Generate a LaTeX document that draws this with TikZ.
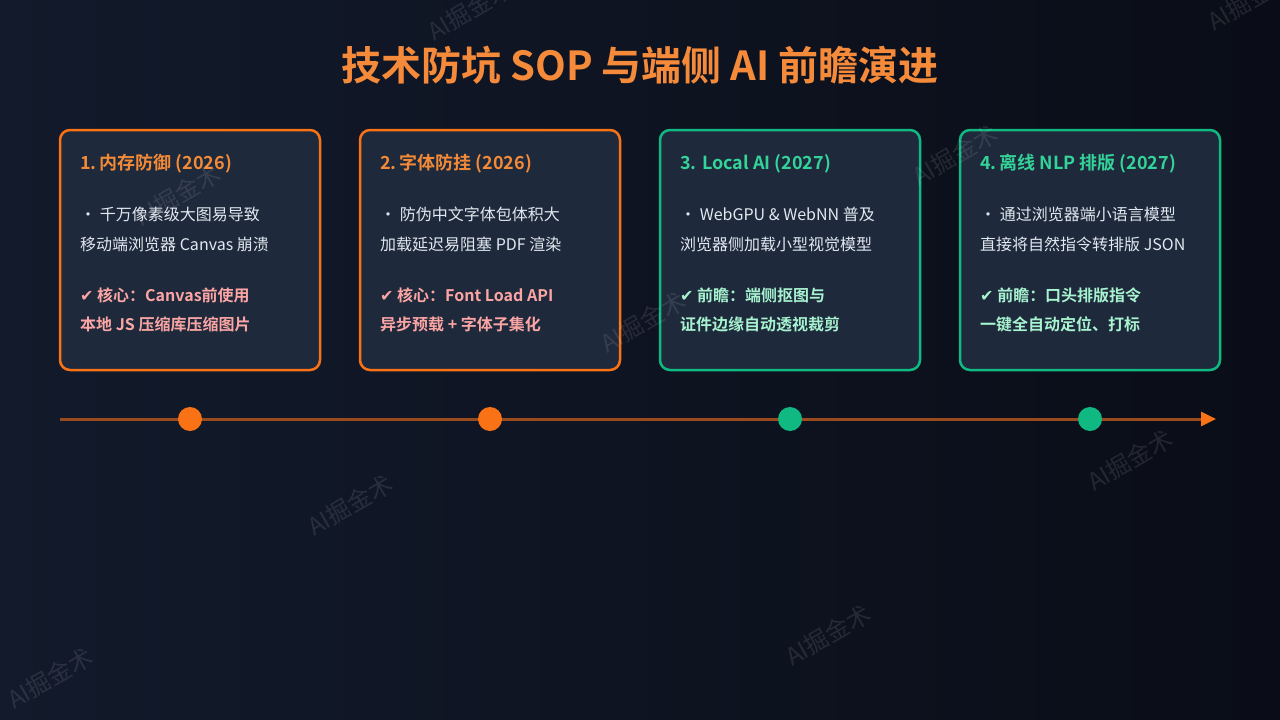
\documentclass[tikz,border=0pt]{standalone}
\usepackage{fontspec}
\setmainfont{Noto Sans CJK SC}[BoldFont={Noto Sans CJK SC Bold}]
\newfontfamily\dejavu{DejaVu Sans}
\usetikzlibrary{arrows.meta}
\definecolor{bgL}{HTML}{121A2B}
\definecolor{bgR}{HTML}{0A0D17}
\definecolor{card}{HTML}{1E293B}
\definecolor{orangeB}{HTML}{F97316}
\definecolor{greenB}{HTML}{10B981}
\definecolor{titleC}{HTML}{F58A3A}
\definecolor{headO}{HTML}{F28A38}
\definecolor{headG}{HTML}{34D399}
\definecolor{bodyC}{HTML}{E2E8F0}
\definecolor{coreO}{HTML}{FCA5A5}
\definecolor{coreG}{HTML}{A7F3D0}
\definecolor{lineC}{HTML}{9A4B1E}
\tikzset{
  cardbox/.style={draw, line width=2.5pt, fill=card, rounded corners=10pt},
  headtxt/.style={anchor=west, inner sep=0pt, font=\fontsize{18}{20}\selectfont\bfseries},
  bodytxt/.style={anchor=west, inner sep=0pt, text=bodyC, font=\fontsize{16}{18}\selectfont},
  coretxt/.style={anchor=west, inner sep=0pt, font=\fontsize{16}{18}\selectfont\bfseries},
  dot/.style={circle, inner sep=0pt, minimum size=24pt},
  wm/.style={rotate=30, text=white, opacity=0.1, font=\fontsize{24}{26}\selectfont}
}
\begin{document}
\begin{tikzpicture}[x=1pt,y=-1pt]
\useasboundingbox (0,0) rectangle (1280,720);
\shade[left color=bgL, right color=bgR] (0,0) rectangle (1280,720);

% title
\node[text=titleC, font=\fontsize{40}{44}\selectfont\bfseries] (title) at (640,65) {技术防坑 SOP 与端侧 AI 前瞻演进};

% cards
\node[cardbox, draw=orangeB, minimum width=260pt, minimum height=240pt] (c1) at (190,250) {};
\node[cardbox, draw=orangeB, minimum width=260pt, minimum height=240pt] (c2) at (490,250) {};
\node[cardbox, draw=greenB, minimum width=260pt, minimum height=240pt] (c3) at (790,250) {};
\node[cardbox, draw=greenB, minimum width=260pt, minimum height=240pt] (c4) at (1090,250) {};

% card 1
\node[headtxt, text=headO] (h1) at (80,164) {1.\,内存防御 (2026)};
\node[bodytxt] (b1a) at (80,214) {・ 千万像素级大图易导致};
\node[bodytxt] (b1b) at (80,244) {移动端浏览器 Canvas 崩溃};
\node[coretxt, text=coreO] (k1a) at (80,295) {{\dejavu\mdseries ✔} 核心：Canvas前使用};
\node[coretxt, text=coreO] (k1b) at (80,324) {本地 JS 压缩库压缩图片};

% card 2
\node[headtxt, text=headO] (h2) at (380,164) {2.\,字体防挂 (2026)};
\node[bodytxt] (b2a) at (380,214) {・ 防伪中文字体包体积大};
\node[bodytxt] (b2b) at (380,244) {加载延迟易阻塞 PDF 渲染};
\node[coretxt, text=coreO] (k2a) at (380,295) {{\dejavu\mdseries ✔} 核心：Font Load API};
\node[coretxt, text=coreO] (k2b) at (380,324) {异步预载 + 字体子集化};

% card 3
\node[headtxt, text=headG] (h3) at (680,164) {3. Local AI (2027)};
\node[bodytxt] (b3a) at (680,214) {・ WebGPU \& WebNN 普及};
\node[bodytxt] (b3b) at (680,244) {浏览器侧加载小型视觉模型};
\node[coretxt, text=coreG] (k3a) at (680,295) {{\dejavu\mdseries ✔} 前瞻：端侧抠图与};
\node[coretxt, text=coreG] (k3b) at (680,324) {证件边缘自动透视裁剪};

% card 4
\node[headtxt, text=headG] (h4) at (980,164) {4.\,离线 NLP 排版 (2027)};
\node[bodytxt] (b4a) at (980,214) {・ 通过浏览器端小语言模型};
\node[bodytxt] (b4b) at (980,244) {直接将自然指令转排版 JSON};
\node[coretxt, text=coreG] (k4a) at (980,295) {{\dejavu\mdseries ✔} 前瞻：口头排版指令};
\node[coretxt, text=coreG] (k4b) at (980,324) {一键全自动定位、打标};

% timeline
\coordinate (tl0) at (60,419);
\coordinate (tl1) at (1216,419);
\draw[lineC, line width=3pt, -{Triangle[length=15pt,width=14pt,color=orangeB]}] (tl0) -- (tl1);
\node[dot, fill=orangeB] (d1) at (190,419) {};
\node[dot, fill=orangeB] (d2) at (490,419) {};
\node[dot, fill=greenB] (d3) at (790,419) {};
\node[dot, fill=greenB] (d4) at (1090,419) {};

% watermarks
\node[wm] (w1) at (178,195) {AI掘金术};
\node[wm] (w2) at (643,322) {AI掘金术};
\node[wm] (w3) at (955,155) {AI掘金术};
\node[wm] (w4) at (1250,0) {AI掘金术};
\node[wm] (w5) at (470,10) {AI掘金术};
\node[wm] (w6) at (350,505) {AI掘金术};
\node[wm] (w7) at (1130,460) {AI掘金术};
\node[wm] (w8) at (828,635) {AI掘金术};
\node[wm] (w9) at (50,678) {AI掘金术};
\end{tikzpicture}
\end{document}
